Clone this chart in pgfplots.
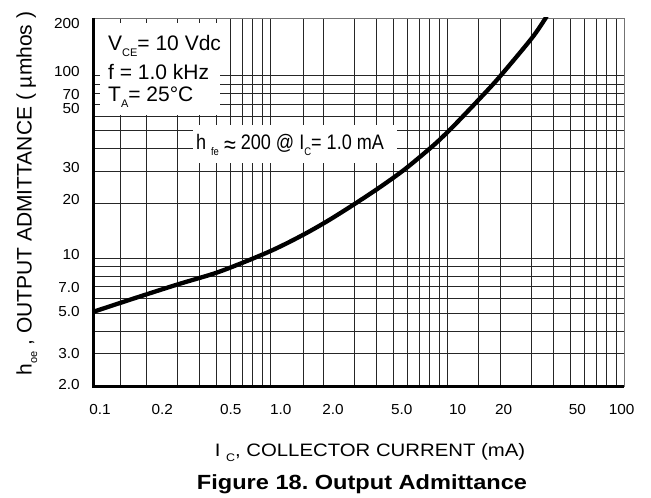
\documentclass[border=0pt]{standalone}
\usepackage{fontspec}
\setmainfont{Liberation Sans}
\newfontfamily\tickfont[FakeStretch=1.06]{Liberation Sans}
\newfontfamily\labfont[FakeStretch=1.13]{Liberation Sans}
\newfontfamily\capfont[FakeStretch=1.15]{Liberation Sans}
\newfontfamily\narrowfont[FakeStretch=0.86]{Liberation Sans}
\usepackage{pgfplots}
\pgfplotsset{compat=1.18}
\newcommand{\lsub}[1]{\raisebox{-0.5ex}{\fontsize{11}{11}\selectfont #1}}
\frenchspacing

\begin{document}
\begin{tikzpicture}
\begin{axis}[
  name=ax,
  xmode=log, ymode=log,
  scale only axis, width=531pt, height=368pt,
  xmin=0.1, xmax=100, ymin=2, ymax=207,
  xtick={0.1096,0.246,0.60,1.15,2.27,5.55,11.5,20.9,54.6,97},
  xticklabels={0.1,0.2,0.5,1.0,2.0,5.0,10,20,50,100},
  ytick={2.05,3.03,5.09,6.89,10.44,20.9,31.3,65.9,78.6,105,194},
  yticklabels={2.0,3.0,5.0,7.0,10,20,30,50,70,100,200},
  major tick length=0pt, minor tick length=0pt,
  minor xtick={0.142,0.2,0.3,0.4,0.5,0.6,0.7,0.8,0.9,1,1.55,2,3,4,5,6,7,8,9,10,15,20,30,40,50,60,70,80,90},
  minor ytick={3,4,5,6,7,8,9,10,20,30,40,50,60,70,80,90,100},
  xminorgrids=true, yminorgrids=true, xmajorgrids=false, ymajorgrids=false,
  minor grid style={black!85, line width=0.75pt},
  axis line style={black!55, line width=0.9pt},
  xticklabel style={font=\tickfont\fontsize{14.5}{15}\selectfont, anchor=center, yshift=-24pt},
  yticklabel style={font=\tickfont\fontsize{14.5}{15}\selectfont, anchor=east, inner sep=0pt, xshift=-13pt},
  clip=true,
]
\addplot[black, line width=4.3pt, smooth, tension=0.5] coordinates {
 (0.1,5.09) (0.1683,6.01) (0.2983,7.18) (0.4890,8.29) (0.7037,9.48) (1.0,10.93)
 (1.297,12.34) (1.683,14.10) (2.183,16.32) (2.983,19.75) (4.183,24.54) (5.789,30.79)
 (8.173,40.65) (9.619,47.05) (11.35,55.22) (15.77,77.27) (19.93,99.17) (30.09,160.2)
 (35.79,204.3) (36.3,210)
};
\node[fill=white, inner sep=0pt, minimum width=120pt, minimum height=92pt, anchor=north west]
  at (rel axis cs:0.0132,0.9864) {};
\node[fill=white, inner sep=0pt, minimum width=204pt, minimum height=38pt, anchor=north west]
  at (rel axis cs:0.1883,0.7092) {};
\node[anchor=west, inner sep=0pt, font=\fontsize{21}{22}\selectfont] at (rel axis cs:0.02825,0.9239) {V\lsub{CE}= 10 Vdc};
\node[anchor=west, inner sep=0pt, font=\fontsize{21}{22}\selectfont] at (rel axis cs:0.02825,0.8533) {f = 1.0 kHz};
\node[anchor=west, inner sep=0pt, font=\fontsize{21}{22}\selectfont] at (rel axis cs:0.02825,0.7853) {T\lsub{A}= 25°C};
\node[inner sep=0pt, font=\narrowfont\fontsize{21}{22}\selectfont] at (rel axis cs:0.371,0.6549) {h \lsub{fe} \raisebox{-0.3ex}{\fontsize{25}{25}\selectfont ≈} 200 @ I\lsub{C}= 1.0 mA};
\end{axis}
\draw[line width=3pt, line join=miter] (ax.north west) -- (ax.south west) -- (ax.south east);
\node[anchor=base, inner sep=0pt, font=\labfont\fontsize{18}{20}\selectfont] at ([shift={(277pt,-70.7pt)}]ax.south west) {I \lsub{C}, COLLECTOR CURRENT (mA)};
\node[anchor=base, inner sep=0pt, font=\capfont\bfseries\fontsize{20.5}{22}\selectfont] at ([shift={(269pt,-103.3pt)}]ax.south west) {Figure 18. Output Admittance};
\node[anchor=base, rotate=90, inner sep=0pt, font=\fontsize{21}{22}\selectfont] at ([shift={(-61.3pt,192.5pt)}]ax.south west) {h\lsub{oe} , OUTPUT ADMITTANCE ( µmhos )};
\pgfresetboundingbox
\path ([shift={(-93pt,-111pt)}]ax.south west) rectangle ([shift={(27pt,18pt)}]ax.north east);
\end{tikzpicture}
\end{document}
